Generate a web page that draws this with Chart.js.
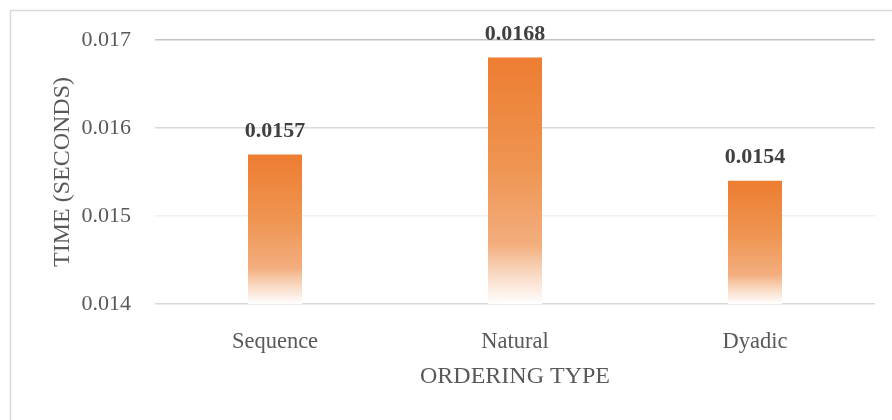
<!DOCTYPE html>
<html>
<head>
<meta charset="utf-8">
<script src="https://cdn.jsdelivr.net/npm/chart.js@4.4.1/dist/chart.umd.min.js"></script>
<style>
  html, body { margin: 0; padding: 0; background: #ffffff; }
  #wrap { width: 892px; height: 420px; position: relative; }
</style>
</head>
<body>
<div id="wrap"><canvas id="chart" width="892" height="420"></canvas></div>
<script>
// Run time per ordering type
const categories = ['Sequence', 'Natural', 'Dyadic'];
const times = [0.0157, 0.0168, 0.0154];
const yTicks = [0.014, 0.015, 0.016, 0.017];

const FONT = "'Liberation Serif', 'Times New Roman', serif";
const TEXT = '#595959';

// Orange fill fading to white towards the baseline, per bar
function barGradient(ctx) {
  const chart = ctx.chart;
  const y = chart.scales.y;
  if (!y || ctx.dataIndex === undefined) return '#ED7D31';
  const v = ctx.dataset.data[ctx.dataIndex];
  const top = y.getPixelForValue(v);
  const bottom = y.getPixelForValue(y.min);
  if (!isFinite(top) || !isFinite(bottom) || bottom <= top) return '#ED7D31';
  const g = chart.ctx.createLinearGradient(0, top, 0, bottom);
  g.addColorStop(0, '#ED7D31');
  g.addColorStop(0.45, '#EF9552');
  g.addColorStop(0.76, '#F3AE7E');
  g.addColorStop(0.86, '#F8D3B9');
  g.addColorStop(1, '#FFFFFF');
  return g;
}

// Light frame around the chart
const framePlugin = {
  id: 'frame',
  beforeDraw(chart) {
    const c = chart.ctx;
    c.save();
    c.fillStyle = '#ffffff';
    c.fillRect(0, 0, chart.width, chart.height);
    c.strokeStyle = '#d9d9d9';
    c.lineWidth = 1.5;
    c.strokeRect(10.5, 10.5, chart.width + 100, chart.height + 100);
    c.restore();
  }
};

// Bold value labels above each bar
const valueLabels = {
  id: 'valueLabels',
  afterDatasetsDraw(chart) {
    const c = chart.ctx;
    const meta = chart.getDatasetMeta(0);
    c.save();
    c.font = "bold 22px " + FONT;
    c.fillStyle = '#404040';
    c.textAlign = 'center';
    c.textBaseline = 'middle';
    meta.data.forEach((bar, i) => {
      const v = chart.data.datasets[0].data[i];
      c.fillText(v.toFixed(4), bar.x, bar.y - 23);
    });
    c.restore();
  }
};

const gridColors = { '0.014': '#d9d9d9', '0.015': '#efefef', '0.016': '#d9d9d9', '0.017': '#c4c4c4' };

new Chart(document.getElementById('chart'), {
  type: 'bar',
  data: {
    labels: categories,
    datasets: [{
      data: times,
      backgroundColor: barGradient,
      borderWidth: 0,
      barPercentage: 0.225,
      categoryPercentage: 1.0
    }]
  },
  options: {
    responsive: false,
    animation: false,
    devicePixelRatio: 1,
    layout: { padding: { left: 0, top: 40, right: 17, bottom: 0 } },
    plugins: { legend: { display: false }, tooltip: { enabled: false } },
    scales: {
      x: {
        grid: { display: false },
        border: { display: false },
        ticks: { color: TEXT, font: { family: FONT, size: 22.5 }, padding: 17 },
        title: {
          display: true,
          text: 'ORDERING TYPE',
          color: TEXT,
          font: { family: FONT, size: 24 },
          padding: { top: 0, bottom: 29 }
        },
        afterFit(scale) { scale.height = 116; }
      },
      y: {
        min: yTicks[0],
        max: yTicks[yTicks.length - 1],
        afterBuildTicks(scale) { scale.ticks = yTicks.map(v => ({ value: v })); },
        grid: {
          drawTicks: false,
          lineWidth: 1.5,
          color: ctx => gridColors[ctx.tick ? ctx.tick.value.toFixed(3) : '0.014'] || '#d9d9d9'
        },
        border: { display: false },
        ticks: {
          color: TEXT,
          font: { family: FONT, size: 22 },
          padding: 24,
          callback: v => Number(v).toFixed(3)
        },
        title: {
          display: true,
          text: 'TIME (SECONDS)',
          color: TEXT,
          font: { family: FONT, size: 24 },
          padding: { top: 48, bottom: 0 }
        },
        afterFit(scale) { scale.width = 155; }
      }
    }
  },
  plugins: [framePlugin, valueLabels]
});
</script>
</body>
</html>
